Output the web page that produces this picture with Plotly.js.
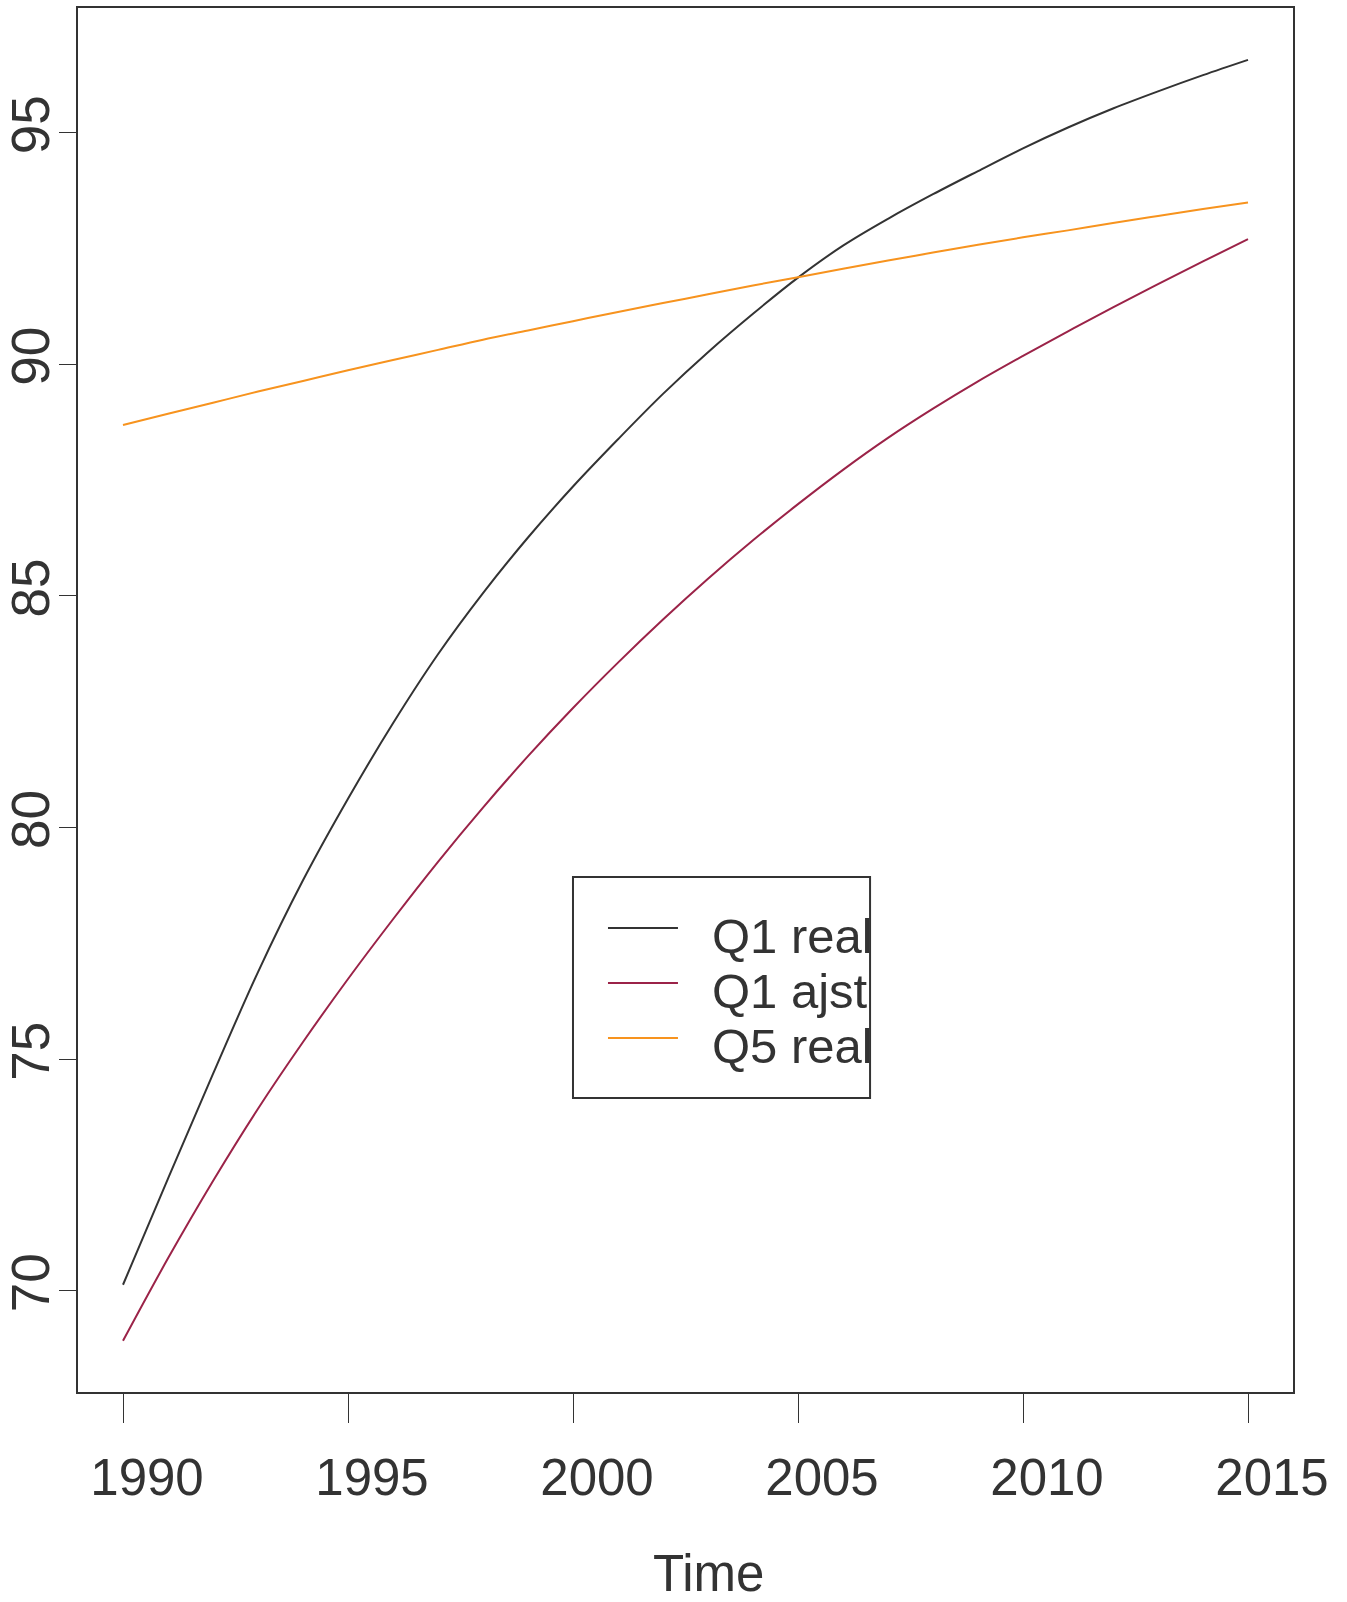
<!DOCTYPE html>
<html>
<head>
<meta charset="utf-8">
<script src="https://cdn.plot.ly/plotly-3.0.1.min.js"></script>
<style>
  html, body { margin: 0; padding: 0; background: #ffffff; }
  #chart { width: 1347px; height: 1602px; }
</style>
</head>
<body>
<div id="chart"></div>
<script>
// ---- data ----
const years = [1990, 1991, 1992, 1993, 1994, 1995, 1996, 1997, 1998, 1999,
               2000, 2001, 2002, 2003, 2004, 2005, 2006, 2007, 2008, 2009,
               2010, 2011, 2012, 2013, 2014, 2015];

const q1Real = [70.13, 72.42, 74.68, 76.88, 78.86, 80.62, 82.25, 83.74, 85.06, 86.26,
                87.36, 88.38, 89.36, 90.26, 91.09, 91.87, 92.56, 93.14, 93.67, 94.17,
                94.66, 95.11, 95.52, 95.89, 96.24, 96.57];

const q1Ajst = [68.92, 70.70, 72.37, 73.93, 75.37, 76.73, 78.02, 79.26, 80.43, 81.54,
                82.58, 83.56, 84.49, 85.37, 86.20, 86.98, 87.72, 88.41, 89.04, 89.63,
                90.18, 90.71, 91.23, 91.73, 92.22, 92.70];

const q5Real = [88.69, 88.93, 89.17, 89.41, 89.64, 89.87, 90.09, 90.31, 90.53, 90.73,
                90.93, 91.13, 91.32, 91.51, 91.70, 91.88, 92.06, 92.24, 92.41, 92.58,
                92.74, 92.89, 93.05, 93.20, 93.35, 93.49];

const seriesNames = ["Q1 real", "Q1 ajst", "Q5 real"];
const xTickVals = [1990, 1995, 2000, 2005, 2010, 2015];
const yTickVals = [70, 75, 80, 85, 90, 95];
const xTitle = "Time";

// ---- styles ----
const seriesValues = [q1Real, q1Ajst, q5Real];
const seriesColors = ["#333333", "#9b2348", "#f7931e"];
const FONT = "Liberation Sans, Arial, Helvetica, sans-serif";
const INK = "#333333";

const traces = seriesValues.map((vals, i) => ({
  type: "scatter",
  mode: "lines",
  x: years,
  y: vals,
  name: seriesNames[i],
  line: { color: seriesColors[i], width: 2, shape: "spline", smoothing: 1 },
  showlegend: false,
  hoverinfo: "x+y+name"
}));

// custom R-style legend (box, line samples, labels) in paper coordinates
const legBox = { x0: 0.4074, x1: 0.6519, y0: 0.2124, y1: 0.3721 };
const legRows = [0.3353, 0.2955, 0.2558];
const shapes = [{
  type: "rect", xref: "paper", yref: "paper",
  x0: legBox.x0, x1: legBox.x1, y0: legBox.y0, y1: legBox.y1,
  line: { color: INK, width: 2 }, fillcolor: "rgba(255,255,255,0)"
}];
const annotations = [];
seriesNames.forEach((nm, i) => {
  shapes.push({
    type: "line", xref: "paper", yref: "paper",
    x0: 0.4362, x1: 0.4938, y0: legRows[i], y1: legRows[i],
    line: { color: seriesColors[i], width: 2 }
  });
  annotations.push({
    xref: "paper", yref: "paper",
    x: 0.5200, y: legRows[i] - 0.006,
    xanchor: "left", yanchor: "middle",
    text: nm, showarrow: false,
    font: { family: FONT, size: 49, color: INK }
  });
});

// x-axis title (R draws it slightly right of centre in the reference)
annotations.push({
  xref: "paper", yref: "paper",
  x: 0.5193, y: -0.1315,
  xanchor: "center", yanchor: "middle",
  text: xTitle, showarrow: false,
  font: { family: FONT, size: 51, color: INK }
});

const layout = {
  width: 1347,
  height: 1602,
  margin: { l: 78, r: 54, t: 8, b: 210 },
  paper_bgcolor: "#ffffff",
  plot_bgcolor: "#ffffff",
  font: { family: FONT, color: INK },
  showlegend: false,
  xaxis: {
    range: [1989.0, 2016.0],
    tickmode: "array",
    tickvals: xTickVals,
    ticktext: xTickVals.map(String),
    ticks: "outside",
    ticklen: 29,
    tickwidth: 1,
    tickcolor: INK,
    ticklabelshift: 24,
    ticklabelstandoff: 11,
    tickfont: { family: FONT, size: 51, color: INK },
    showgrid: false,
    zeroline: false,
    showline: true,
    linecolor: INK,
    linewidth: 2,
    mirror: true
  },
  yaxis: {
    range: [67.815, 97.69],
    tickmode: "array",
    tickvals: yTickVals,
    ticktext: yTickVals.map(String),
    ticks: "outside",
    ticklen: 17,
    tickwidth: 1,
    tickcolor: INK,
    tickangle: -90,
    ticklabelstandoff: -11,
    tickfont: { family: FONT, size: 53, color: INK },
    showgrid: false,
    zeroline: false,
    showline: true,
    linecolor: INK,
    linewidth: 2,
    mirror: true
  },
  shapes: shapes,
  annotations: annotations
};

Plotly.newPlot("chart", traces, layout, { displayModeBar: false, staticPlot: true });
</script>
</body>
</html>
